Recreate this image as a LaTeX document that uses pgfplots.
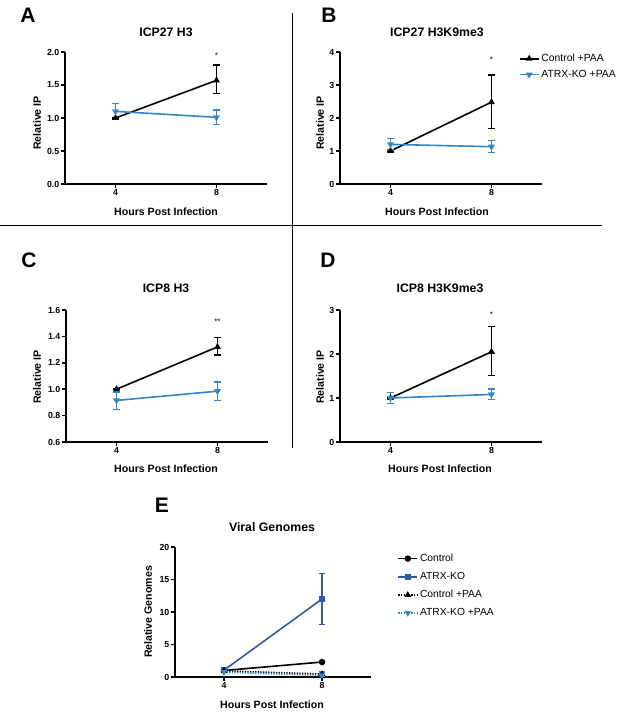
\documentclass[border=0pt]{standalone}
\usepackage{fontspec}
\setmainfont{Liberation Sans}
\usepackage{pgfplots}
\pgfplotsset{compat=1.18}
\definecolor{cblue}{HTML}{3584C6}
\definecolor{dblue}{HTML}{2F5BA8}
\tikzset{sig/.style={font=\fontsize{8}{9}\selectfont}}
\pgfplotsset{
  prism/.style={
    scale only axis, width=202pt, height=132pt, anchor=south west,
    axis x line*=bottom, axis y line*=left,
    axis line style={line width=1.9pt, black},
    tick align=outside, major tick length=4pt,
    every tick/.style={line width=1.6pt, black},
    xmin=2, xmax=10, xtick={4,8},
    tick label style={font=\fontsize{8.8}{10}\selectfont\bfseries, inner sep=1.5pt},
    /pgf/number format/assume math mode=true,
    clip=false,
    legend cell align=left,
    legend image code/.code={\draw[mark repeat=2,mark phase=2] plot coordinates {(0cm,0cm) (0.33cm,0cm) (0.66cm,0cm)};},
  },
  ebar/.style={
    /pgfplots/error bars/y dir=both, /pgfplots/error bars/y explicit,
    /pgfplots/error bars/error bar style={line width=1.4pt, #1, solid},
    /pgfplots/error bars/error mark options={rotate=90, line width=1.4pt, #1, mark size=3.3pt, solid}},
  ctrl/.style={black, line width=1.6pt, mark=triangle*, mark size=2.4pt, mark options={solid, black}, ebar=black},
  atrx/.style={cblue, line width=1.6pt, mark=triangle*, mark size=2.4pt, mark options={solid, cblue, rotate=180}, ebar=cblue},
}
\begin{document}
\begin{tikzpicture}[x=1pt,y=1pt]
\path[use as bounding box] (0pt,0pt) rectangle (617pt,712pt);
% dividers
\draw[line width=1.3pt] (0pt,486.3pt) -- (602pt,486.3pt);
\draw[line width=1.3pt] (292.7pt,699pt) -- (292.7pt,264pt);

% ---------------- A
\begin{axis}[prism, at={(65pt,528pt)}, ymin=0, ymax=2, ytick={0,0.5,1,1.5,2},
  yticklabel style={/pgf/number format/.cd, fixed, fixed zerofill, precision=1}]
\addplot[ctrl] coordinates {(4,1.0) +- (0,0) (8,1.57) += (0,0.23) -= (0,0.20)};
\addplot[atrx] coordinates {(4,1.10) +- (0,0.12) (8,1.01) +- (0,0.11)};
\node[sig] at (axis cs:8,1.95) {*};
\end{axis}

% ---------------- B
\begin{axis}[prism, at={(340pt,528pt)}, ymin=0, ymax=4, ytick={0,1,2,3,4},
  legend style={draw=none, fill=none, at={(0.885,1.0)}, anchor=north west,
    font=\fontsize{10.4}{12}\selectfont, row sep=3pt, inner sep=0pt}]
\addplot[ctrl] coordinates {(4,1.0) +- (0,0) (8,2.48) += (0,0.82) -= (0,0.79)};
\addlegendentry{Control +PAA}
\addplot[atrx] coordinates {(4,1.20) +- (0,0.17) (8,1.13) += (0,0.19) -= (0,0.18)};
\addlegendentry{ATRX-KO +PAA}
\node[sig] at (axis cs:8,3.76) {*};
\end{axis}

% ---------------- C
\begin{axis}[prism, at={(66pt,270pt)}, ymin=0.6, ymax=1.6, ytick={0.6,0.8,1.0,1.2,1.4,1.6},
  yticklabel style={/pgf/number format/.cd, fixed, fixed zerofill, precision=1}]
\addplot[ctrl] coordinates {(4,1.0) +- (0,0) (8,1.32) += (0,0.07) -= (0,0.06)};
\addplot[atrx] coordinates {(4,0.915) += (0,0.065) -= (0,0.07) (8,0.985) +- (0,0.07)};
\node[sig] at (axis cs:8,1.51) {**};
\end{axis}

% ---------------- D
\begin{axis}[prism, at={(340pt,270pt)}, ymin=0, ymax=3, ytick={0,1,2,3}]
\addplot[ctrl] coordinates {(4,1.0) +- (0,0) (8,2.05) += (0,0.57) -= (0,0.54)};
\addplot[atrx] coordinates {(4,1.0) +- (0,0.13) (8,1.08) +- (0,0.12)};
\node[sig] at (axis cs:8,2.89) {*};
\end{axis}

% ---------------- E
\begin{axis}[prism, at={(175pt,35pt)}, width=196pt, height=130pt, ymin=0, ymax=20, ytick={0,5,10,15,20},
  legend style={draw=none, fill=none, at={(1.135,0.962)}, anchor=north west,
    font=\fontsize{10.3}{12}\selectfont, row sep=5.3pt, inner sep=0pt}]
\addplot[black, line width=1.6pt, mark=*, mark size=2.4pt, mark options={solid}] coordinates {(4,1.0) (8,2.3)};
\addlegendentry{Control}
\addplot[dblue, line width=1.6pt, mark=square*, mark size=2.3pt, mark options={solid}, ebar=dblue]
  coordinates {(4,1.05) +- (0,0) (8,12.0) +- (0,3.9)};
\addlegendentry{ATRX-KO}
\addplot[black, line width=1.6pt, dash pattern=on 1.3pt off 1.3pt, mark=triangle*, mark size=2.2pt, mark options={solid}]
  coordinates {(4,0.95) (8,0.45)};
\addlegendentry{Control +PAA}
\addplot[cblue, line width=1.6pt, dash pattern=on 1.3pt off 1.3pt, mark=triangle*, mark size=2.2pt, mark options={solid, rotate=180}, ebar=cblue]
  coordinates {(4,0.75) +- (0,0) (8,0.25) += (0,0.5) -= (0,0.2)};
\addlegendentry{ATRX-KO +PAA}
\end{axis}

% ---------------- titles
\begin{scope}[every node/.style={font=\fontsize{12.3}{14}\selectfont\bfseries}]
\node at (166pt,680pt) {ICP27 H3};
\node at (437pt,680pt) {ICP27 H3K9me3};
\node at (166pt,424pt) {ICP8 H3};
\node at (440pt,424pt) {ICP8 H3K9me3};
\node at (272pt,185pt) {Viral Genomes};
\end{scope}
% ---------------- axis labels
\begin{scope}[every node/.style={font=\fontsize{10.6}{12}\selectfont\bfseries}]
\node at (166pt,500pt) {Hours Post Infection};
\node at (437pt,500pt) {Hours Post Infection};
\node at (166pt,243pt) {Hours Post Infection};
\node at (440pt,243pt) {Hours Post Infection};
\node at (272pt,7pt) {Hours Post Infection};
\node[rotate=90] at (37pt,589pt) {Relative IP};
\node[rotate=90] at (320pt,589pt) {Relative IP};
\node[rotate=90] at (37pt,335pt) {Relative IP};
\node[rotate=90] at (320pt,335pt) {Relative IP};
\node[rotate=90] at (148pt,100pt) {Relative Genomes};
\end{scope}
% ---------------- panel letters
\begin{scope}[every node/.style={font=\fontsize{21}{24}\selectfont\bfseries}]
\node at (28pt,697pt) {A};
\node at (329pt,697pt) {B};
\node at (29pt,452pt) {C};
\node at (328pt,452pt) {D};
\node at (162pt,207pt) {E};
\end{scope}
\end{tikzpicture}
\end{document}
